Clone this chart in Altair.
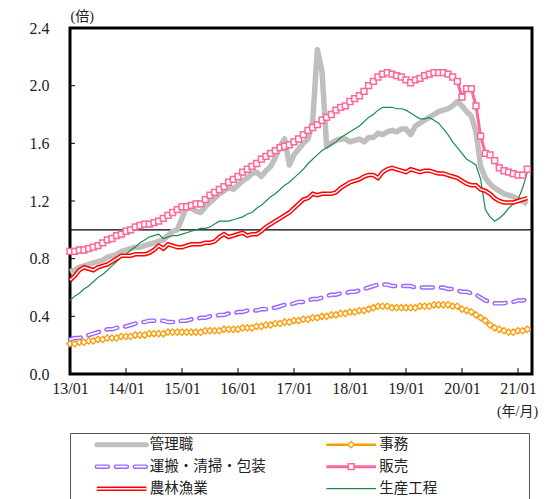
import altair as alt
import pandas as pd

# ---------------- data ----------------
tick_labels = ["13/01", "14/01", "15/01", "16/01", "17/01", "18/01", "19/01", "20/01", "21/01"]
tick_months = [0, 12, 24, 36, 48, 60, 72, 84, 96]
y_ticks = [0.0, 0.4, 0.8, 1.2, 1.6, 2.0, 2.4]
reference_level = [1.0]

series_keys = ["kanri", "jimu", "unpan", "hanbai", "noorin", "seisan"]
series_names = ["管理職", "事務", "運搬・清掃・包装", "販売", "農林漁業", "生産工程"]

# 管理職
kanri = [0.71, 0.72, 0.74, 0.75, 0.76, 0.77, 0.78, 0.79, 0.81, 0.82, 0.83, 0.85,
         0.86, 0.87, 0.88, 0.88, 0.89, 0.90, 0.91, 0.92, 0.93, 0.96, 0.99, 1.00,
         1.08, 1.16, 1.15, 1.13, 1.12, 1.16, 1.19, 1.22, 1.25, 1.27, 1.30, 1.28,
         1.31, 1.34, 1.36, 1.39, 1.40, 1.37, 1.41, 1.44, 1.50, 1.58, 1.63, 1.45,
         1.52, 1.56, 1.60, 1.63, 1.75, 2.25, 2.10, 1.58, 1.60, 1.62, 1.63, 1.63,
         1.61, 1.62, 1.63, 1.61, 1.64, 1.64, 1.67, 1.66, 1.68, 1.69, 1.68, 1.70,
         1.70, 1.66, 1.72, 1.74, 1.76, 1.78, 1.80, 1.82, 1.83, 1.84, 1.86, 1.89,
         1.86, 1.82, 1.79, 1.68, 1.44, 1.36, 1.32, 1.29, 1.27, 1.25, 1.24, 1.23,
         1.21, 1.20, 1.18]
# 事務
jimu = [0.21, 0.21, 0.22, 0.22, 0.23, 0.23, 0.24, 0.24, 0.25, 0.25, 0.25, 0.26,
        0.26, 0.26, 0.27, 0.27, 0.27, 0.28, 0.28, 0.28, 0.28, 0.29, 0.29, 0.29,
        0.29, 0.29, 0.29, 0.29, 0.29, 0.30, 0.30, 0.30, 0.30, 0.31, 0.31, 0.31,
        0.31, 0.32, 0.32, 0.32, 0.33, 0.33, 0.34, 0.34, 0.35, 0.35, 0.36, 0.36,
        0.37, 0.37, 0.38, 0.38, 0.39, 0.39, 0.40, 0.40, 0.41, 0.41, 0.42, 0.42,
        0.43, 0.43, 0.44, 0.44, 0.45, 0.46, 0.47, 0.47, 0.47, 0.46, 0.46, 0.46,
        0.46, 0.46, 0.46, 0.47, 0.47, 0.47, 0.48, 0.48, 0.48, 0.48, 0.47, 0.47,
        0.45, 0.44, 0.43, 0.41, 0.39, 0.37, 0.34, 0.32, 0.31, 0.30, 0.29, 0.29,
        0.30, 0.30, 0.31]
# 運搬・清掃・包装
unpan = [0.24, 0.25, 0.25, 0.26, 0.27, 0.28, 0.29, 0.30, 0.31, 0.31, 0.32, 0.33,
         0.33, 0.34, 0.35, 0.36, 0.36, 0.37, 0.37, 0.37, 0.37, 0.36, 0.36, 0.36,
         0.37, 0.37, 0.38, 0.38, 0.39, 0.39, 0.40, 0.40, 0.41, 0.41, 0.42, 0.42,
         0.43, 0.43, 0.44, 0.44, 0.44, 0.45, 0.45, 0.46, 0.46, 0.47, 0.48, 0.48,
         0.49, 0.50, 0.50, 0.51, 0.52, 0.52, 0.53, 0.54, 0.55, 0.55, 0.56, 0.56,
         0.57, 0.57, 0.58, 0.59, 0.60, 0.61, 0.62, 0.62, 0.62, 0.61, 0.61, 0.61,
         0.61, 0.61, 0.60, 0.60, 0.60, 0.60, 0.60, 0.60, 0.60, 0.59, 0.59, 0.58,
         0.57, 0.57, 0.56, 0.55, 0.53, 0.51, 0.50, 0.49, 0.49, 0.49, 0.50, 0.50,
         0.51, 0.51, 0.52]
# 販売
hanbai = [0.85, 0.85, 0.86, 0.86, 0.87, 0.88, 0.89, 0.91, 0.93, 0.94, 0.96, 0.97,
          0.99, 1.00, 1.02, 1.03, 1.04, 1.04, 1.05, 1.06, 1.08, 1.10, 1.12, 1.14,
          1.16, 1.16, 1.17, 1.18, 1.18, 1.21, 1.24, 1.26, 1.28, 1.30, 1.33, 1.35,
          1.37, 1.40, 1.42, 1.44, 1.46, 1.49, 1.51, 1.53, 1.55, 1.57, 1.58, 1.59,
          1.61, 1.63, 1.66, 1.69, 1.71, 1.73, 1.76, 1.78, 1.80, 1.83, 1.85, 1.86,
          1.89, 1.91, 1.93, 1.96, 2.00, 2.03, 2.06, 2.08, 2.09, 2.08, 2.07, 2.06,
          2.04, 2.02, 2.04, 2.05, 2.07, 2.08, 2.09, 2.09, 2.09, 2.08, 2.06, 2.03,
          1.92, 1.98, 1.98, 1.86, 1.65, 1.53, 1.52, 1.48, 1.43, 1.41, 1.40, 1.39,
          1.38, 1.38, 1.42]
# 農林漁業
noorin = [0.65, 0.68, 0.72, 0.74, 0.73, 0.72, 0.74, 0.75, 0.76, 0.78, 0.80, 0.82,
          0.82, 0.82, 0.83, 0.83, 0.83, 0.84, 0.86, 0.89, 0.87, 0.90, 0.89, 0.88,
          0.88, 0.89, 0.90, 0.90, 0.90, 0.91, 0.91, 0.92, 0.95, 0.97, 0.95, 0.96,
          0.97, 0.98, 0.96, 0.97, 0.97, 0.99, 1.02, 1.04, 1.06, 1.08, 1.10, 1.12,
          1.15, 1.18, 1.21, 1.22, 1.25, 1.24, 1.25, 1.25, 1.25, 1.26, 1.29, 1.31,
          1.33, 1.34, 1.35, 1.37, 1.38, 1.38, 1.36, 1.40, 1.42, 1.43, 1.42, 1.41,
          1.40, 1.42, 1.41, 1.40, 1.41, 1.41, 1.40, 1.39, 1.39, 1.38, 1.37, 1.36,
          1.34, 1.32, 1.31, 1.31, 1.28, 1.27, 1.25, 1.22, 1.20, 1.19, 1.19, 1.19,
          1.20, 1.21, 1.22]
# 生産工程
seisan = [0.51, 0.54, 0.56, 0.59, 0.61, 0.64, 0.67, 0.69, 0.72, 0.75, 0.78, 0.81,
          0.83, 0.86, 0.88, 0.91, 0.93, 0.95, 0.96, 0.97, 0.94, 0.95, 0.96, 0.96,
          0.97, 0.98, 0.99, 1.00, 1.01, 1.01, 1.02, 1.04, 1.06, 1.06, 1.06, 1.07,
          1.08, 1.09, 1.11, 1.12, 1.15, 1.17, 1.20, 1.23, 1.25, 1.28, 1.31, 1.33,
          1.36, 1.39, 1.42, 1.46, 1.49, 1.52, 1.55, 1.57, 1.59, 1.61, 1.64, 1.66,
          1.68, 1.70, 1.72, 1.75, 1.78, 1.80, 1.83, 1.85, 1.85, 1.85, 1.84, 1.84,
          1.83, 1.81, 1.79, 1.77, 1.77, 1.78, 1.76, 1.74, 1.70, 1.66, 1.61, 1.57,
          1.53, 1.49, 1.47, 1.45, 1.35, 1.14, 1.09, 1.06, 1.08, 1.11, 1.15, 1.18,
          1.21, 1.29, 1.40]

# ---------------- styles ----------------
GRAY = "#bfbfbf"
ORANGE = "#ff9900"
PURPLE = "#9966ff"
PINK = "#ff6699"
RED = "#ff0000"
GREEN = "#1e8c46"
TXT = "#222222"
SERIF = "Liberation Serif"
CJK_SERIF = "Liberation Serif, Noto Sans CJK JP"
CJK = "Noto Sans CJK JP"
DASH = [11, 8]

n = len(kanri)
df = pd.DataFrame({"m": list(range(n)), "kanri": kanri, "jimu": jimu, "unpan": unpan,
                   "hanbai": hanbai, "noorin": noorin, "seisan": seisan})

xs = alt.Scale(domain=[0, 99], nice=False, zero=False)
ys = alt.Scale(domain=[0, 2.4], nice=False, zero=True)

label_expr = "[" + ",".join("'%s'" % t for t in tick_labels) + "][round(datum.value/12)]"

xaxis = alt.Axis(values=tick_months, labelExpr=label_expr, domain=False, ticks=False, grid=False,
                 labelFont=SERIF, labelFontSize=16, labelColor=TXT, labelPadding=6,
                 labelFlush=False, labelOverlap=False,
                 title="(年/月)", titleFont=CJK_SERIF, titleFontSize=14, titleFontWeight="normal",
                 titleColor=TXT, titleX=447, titleY=41, titleAlign="center",
                 titleBaseline="alphabetic")
yaxis = alt.Axis(values=y_ticks, format=".1f", domain=False, ticks=False, grid=False,
                 labelFont=SERIF, labelFontSize=16, labelColor=TXT, labelPadding=21,
                 labelFlush=False, minExtent=50, maxExtent=50,
                 title="(倍)", titleAngle=0, titleX=0, titleY=-5, titleAlign="left",
                 titleBaseline="bottom", titleFont=CJK_SERIF, titleFontSize=14,
                 titleFontWeight="normal", titleColor=TXT)

X = alt.X("m:Q", scale=xs, axis=xaxis)


def Y(f):
    return alt.Y(f + ":Q", scale=ys, axis=yaxis)


base = alt.Chart(df)

gray_l = base.mark_line(color=GRAY, strokeWidth=5.5, strokeJoin="round").encode(x=X, y=Y("kanri"))
green_l = base.mark_line(color=GREEN, strokeWidth=1.2).encode(x=X, y=Y("seisan"))
red_o = base.mark_line(color=RED, strokeWidth=4.5).encode(x=X, y=Y("noorin"))
red_i = base.mark_line(color="white", strokeWidth=1.5).encode(x=X, y=Y("noorin"))
pur_o = base.mark_line(color=PURPLE, strokeWidth=4.5, strokeDash=DASH, strokeCap="round").encode(x=X, y=Y("unpan"))
pur_i = base.mark_line(color="white", strokeWidth=1.6, strokeDash=DASH, strokeCap="round").encode(x=X, y=Y("unpan"))
org_l = base.mark_line(color=ORANGE, strokeWidth=2).encode(x=X, y=Y("jimu"))
org_p = base.mark_point(shape="diamond", filled=True, fill="white", stroke=ORANGE, strokeWidth=1.3,
                        size=40, opacity=1).encode(x=X, y=Y("jimu"))
pnk_l = base.mark_line(color=PINK, strokeWidth=3).encode(x=X, y=Y("hanbai"))
pnk_p = base.mark_point(shape="square", filled=True, fill="white", stroke=PINK, strokeWidth=1.5,
                        size=34, opacity=1).encode(x=X, y=Y("hanbai"))

ref = alt.Chart(pd.DataFrame({"v": reference_level})).mark_rule(color="black", strokeWidth=1.2).encode(
    y=alt.Y("v:Q", scale=ys, axis=yaxis))

ytk = alt.Chart(pd.DataFrame({"v": y_ticks})).mark_rule(color="black", strokeWidth=1).encode(
    y=alt.Y("v:Q", scale=ys, axis=yaxis), x=alt.value(0), x2=alt.value(5))
xtk = alt.Chart(pd.DataFrame({"m": tick_months})).mark_rule(color="black", strokeWidth=1).encode(
    x=alt.X("m:Q", scale=xs, axis=xaxis), y=alt.value(346), y2=alt.value(340))

main = alt.layer(ref, gray_l, green_l, red_o, red_i, pur_o, pur_i, org_l, org_p, pnk_l, pnk_p,
                 ytk, xtk).properties(
    width=462, height=346,
    view=alt.ViewBackground(stroke="black", strokeWidth=3))

# ---------------- legend ----------------
leg_df = pd.DataFrame({"key": series_keys, "name": series_names,
                       "col": [0, 1, 0, 1, 0, 1], "row": [0, 0, 1, 1, 2, 2]})
lx = alt.Scale(domain=[0, 2], nice=False, zero=True)
ly = alt.Scale(domain=[0, 3], nice=False, zero=True)
leg = alt.Chart(leg_df).transform_calculate(
    x0="datum.col + 0.117", x1="datum.col + 0.333", xm="datum.col + 0.225",
    xt="datum.col + 0.347", yy="2.47 - datum.row")


def lrule(key, **kw):
    return leg.transform_filter("datum.key == '%s'" % key).mark_rule(**kw).encode(
        x=alt.X("x0:Q", scale=lx, axis=None), x2="x1:Q",
        y=alt.Y("yy:Q", scale=ly, axis=None))


def lpoint(key, **kw):
    return leg.transform_filter("datum.key == '%s'" % key).mark_point(**kw).encode(
        x=alt.X("xm:Q", scale=lx, axis=None), y=alt.Y("yy:Q", scale=ly, axis=None))


leg_text = leg.mark_text(align="left", baseline="middle", font=CJK, fontSize=14.5, color=TXT).encode(
    x=alt.X("xt:Q", scale=lx, axis=None), y=alt.Y("yy:Q", scale=ly, axis=None), text="name:N")

legend = alt.layer(
    lrule("kanri", color=GRAY, strokeWidth=5, strokeCap="round"),
    lrule("jimu", color=ORANGE, strokeWidth=2.5),
    lpoint("jimu", shape="diamond", filled=True, fill="white", stroke=ORANGE, strokeWidth=1.3, size=40, opacity=1),
    lrule("unpan", color=PURPLE, strokeWidth=4.5, strokeDash=DASH, strokeCap="round"),
    lrule("unpan", color="white", strokeWidth=1.6, strokeDash=DASH, strokeCap="round"),
    lrule("hanbai", color=PINK, strokeWidth=3),
    lpoint("hanbai", shape="square", filled=True, fill="white", stroke=PINK, strokeWidth=1.5, size=34, opacity=1),
    lrule("noorin", color=RED, strokeWidth=4.5),
    lrule("noorin", color="white", strokeWidth=1.5),
    lrule("seisan", color=GREEN, strokeWidth=1.2),
    leg_text,
).properties(width=459, height=66,
             view=alt.ViewBackground(stroke="#555555", strokeWidth=1))

chart = alt.vconcat(main, legend, spacing=12).properties(
    padding={"left": 18, "top": 7, "right": 0, "bottom": 0},
    background="white")

chart.save("out.html", embed_options={"renderer": "svg", "actions": False})
